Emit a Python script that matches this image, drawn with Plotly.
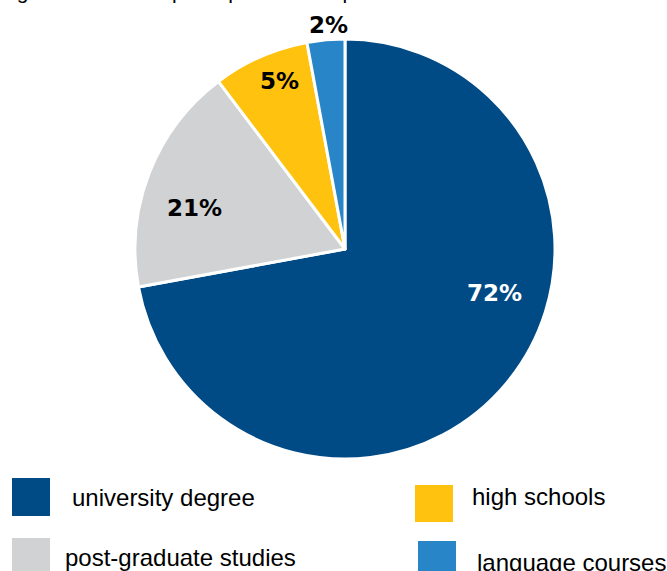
import plotly.graph_objects as go

categories = ["university degree", "post-graduate studies", "high schools", "language courses"]
values = [72.1, 17.6, 7.4, 2.9]
label_texts = ["72%", "21%", "5%", "2%"]
colors = ["#004A86", "#D1D2D4", "#FFC20E", "#2886C8"]
label_colors = ["white", "black", "black", "black"]

W, H = 667, 571

fig = go.Figure()
fig.add_trace(go.Pie(
    labels=categories, values=values, sort=False, direction="clockwise", rotation=0,
    marker=dict(colors=colors, line=dict(color="white", width=3)),
    textinfo="none", hoverinfo="label+percent", showlegend=False,
    domain=dict(x=[135 / W, 555 / W], y=[1 - 459 / H, 1 - 39 / H]),
))

# slice labels (pixel positions)
label_pos = [(494, 293), (194, 208), (279, 81), (328, 25)]
for t, c, (px, py) in zip(label_texts, label_colors, label_pos):
    fig.add_annotation(x=px / W, y=1 - py / H, xref="paper", yref="paper", text=t,
                       showarrow=False, xanchor="center", yanchor="middle",
                       font=dict(family="DejaVu Sans", size=23, color=c, weight="bold"))

# clipped title at top
fig.add_annotation(x=0.0, y=1, xref="paper", yref="paper", xanchor="left", yanchor="bottom",
                   yshift=-5, xshift=-12,
                   text="Degree level of the participants in the period",
                   showarrow=False, font=dict(family="Liberation Sans", size=21, color="black"))

# custom legend
legend_items = [
    ("university degree", colors[0], (12, 478, 50, 516), (70, 497)),
    ("high schools", colors[2], (415, 485, 453, 522), (470, 496)),
    ("post-graduate studies", colors[1], (12, 538, 50, 576), (63, 557)),
    ("language courses", colors[3], (418, 541, 456, 579), (475, 562)),
]
for name, col, (x0, y0, x1, y1), (tx, ty) in legend_items:
    fig.add_shape(type="rect", xref="paper", yref="paper",
                  x0=x0 / W, x1=x1 / W, y0=1 - y1 / H, y1=1 - y0 / H,
                  fillcolor=col, line=dict(width=0))
    fig.add_annotation(x=tx / W, y=1 - ty / H, xref="paper", yref="paper", text=name,
                       showarrow=False, xanchor="left", yanchor="middle",
                       font=dict(family="Liberation Sans", size=24, color="black"))

fig.update_layout(width=W, height=H, margin=dict(l=0, r=0, t=0, b=0),
                  paper_bgcolor="white", plot_bgcolor="white")
fig.write_html("out.html", config={"displayModeBar": False},
               post_script="document.body.style.margin='0';document.body.style.overflow='hidden';")
